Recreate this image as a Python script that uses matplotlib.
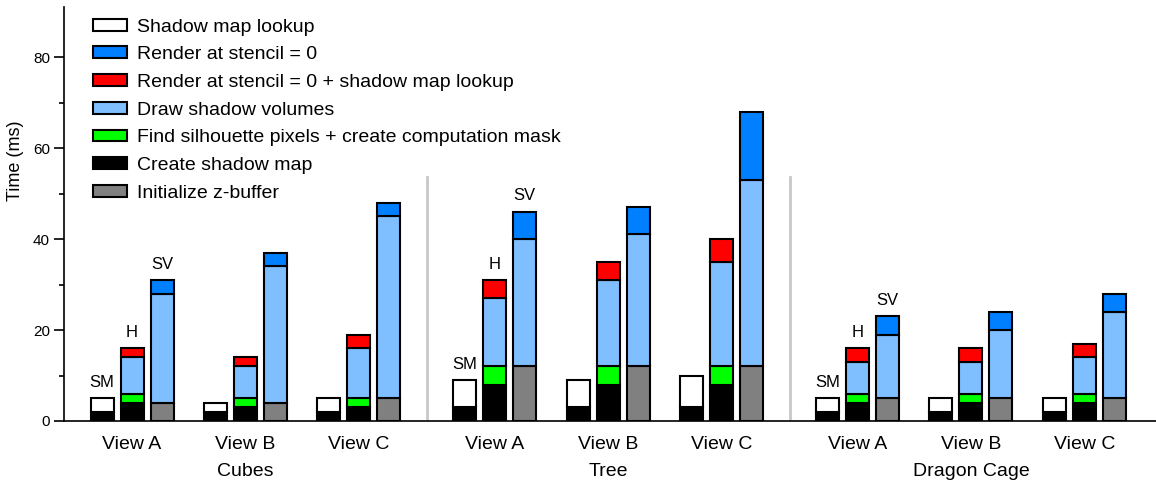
import matplotlib
matplotlib.use("Agg")
import matplotlib.pyplot as plt
from matplotlib.patches import Patch
import numpy as np

plt.rcParams["font.family"] = ["Liberation Sans", "DejaVu Sans"]

# Data (ms), one value per view: Cubes A-C, Tree A-C, Dragon Cage A-C
groups = ["Cubes", "Tree", "Dragon Cage"]
views = ["View A", "View B", "View C"]

# SM bar
sm_create_map = [2, 2, 2, 3, 3, 3, 2, 2, 2]
sm_lookup = [3, 2, 3, 6, 6, 7, 3, 3, 3]
# H bar
h_create_map = [4, 3, 3, 8, 8, 8, 4, 4, 4]
h_silhouette = [2, 2, 2, 4, 4, 4, 2, 2, 2]
h_draw_sv = [8, 7, 11, 15, 19, 23, 7, 7, 8]
h_render_lookup = [2, 2, 3, 4, 4, 5, 3, 3, 3]
# SV bar
sv_init_z = [4, 4, 5, 12, 12, 12, 5, 5, 5]
sv_draw_sv = [24, 30, 40, 28, 29, 41, 14, 15, 19]
sv_render = [3, 3, 3, 6, 6, 15, 4, 4, 4]

c_white = "#ffffff"
c_blue = "#0080ff"
c_red = "#ff0000"
c_lblue = "#80bfff"
c_green = "#00ff00"
c_black = "#000000"
c_gray = "#808080"

legend_items = [
    ("Shadow map lookup", c_white),
    ("Render at stencil = 0", c_blue),
    ("Render at stencil = 0 + shadow map lookup", c_red),
    ("Draw shadow volumes", c_lblue),
    ("Find silhouette pixels + create computation mask", c_green),
    ("Create shadow map", c_black),
    ("Initialize z-buffer", c_gray),
]

# layout
view_step = 3.78
group_gap = 0.75
bar_w = 0.77
group_step = 3 * view_step + group_gap

idx = np.arange(9)
g_idx = idx // 3
v_idx = idx % 3
base_x = g_idx * group_step + v_idx * view_step
x_sm = base_x
x_h = base_x + 1
x_sv = base_x + 2

fig = plt.figure(figsize=(11.56, 4.87), dpi=100)
ax = fig.add_axes([64 / 1156, 66 / 487, 1 - 64 / 1156, (421 - 7) / 487])

ekw = dict(width=bar_w, edgecolor="black", linewidth=1.5, zorder=3)

def stack(x, segments):
    bottom = np.zeros(len(x))
    for vals, col in segments:
        vals = np.array(vals, dtype=float)
        ax.bar(x, vals, bottom=bottom, color=col, **ekw)
        bottom += vals
    return bottom

top_sm = stack(x_sm, [(sm_create_map, c_black), (sm_lookup, c_white)])
top_h = stack(x_h, [(h_create_map, c_black), (h_silhouette, c_green),
                    (h_draw_sv, c_lblue), (h_render_lookup, c_red)])
top_sv = stack(x_sv, [(sv_init_z, c_gray), (sv_draw_sv, c_lblue),
                      (sv_render, c_blue)])

# SM / H / SV labels above view A of each group
for i in idx[v_idx == 0]:
    for xs, tops, lab in [(x_sm, top_sm, "SM"), (x_h, top_h, "H"), (x_sv, top_sv, "SV")]:
        ax.annotate(lab, (xs[i], tops[i]), xytext=(0, 6), textcoords="offset points",
                    ha="center", va="bottom", fontsize=12)

# separators between groups
for g in range(1, len(groups)):
    xsep = (x_sv[3 * g - 1] + x_sm[3 * g]) / 2
    ax.plot([xsep, xsep], [0, 53.6], color="#c8c8c8", lw=2, zorder=1)

ax.set_xlim(x_sm[0] - 1.27, x_sm[0] + 35.13)
ax.set_ylim(0, 91)
ax.spines["top"].set_visible(False)
ax.spines["right"].set_visible(False)
ax.spines["left"].set_linewidth(1.2)
ax.spines["bottom"].set_linewidth(1.2)
ax.set_xticks([])
ax.set_yticks([0, 20, 40, 60, 80])
ax.set_yticks([10, 30, 50, 70], minor=True)
ax.tick_params(axis="y", which="major", direction="out", length=7, width=1.2,
               labelsize=11, pad=3)
ax.tick_params(axis="y", which="minor", direction="out", length=3.5, width=1.2)
ax.set_ylabel("Time (ms)", fontsize=13)
ax.yaxis.set_label_coords(-0.0366, 0.628)

# view and group labels
for i in idx:
    ax.annotate(views[v_idx[i]], (x_h[i], 0), xytext=(0, -11), textcoords="offset points",
                ha="center", va="top", fontsize=14)
for g, name in enumerate(groups):
    ax.annotate(name, (x_h[3 * g + 1], 0), xytext=(0, -30), textcoords="offset points",
                ha="center", va="top", fontsize=14)

handles = [Patch(facecolor=c, edgecolor="black", linewidth=1.5, label=l) for l, c in legend_items]
ax.legend(handles=handles, loc="upper left", bbox_to_anchor=(0.0145, 1.005), frameon=False,
          fontsize=14, handlelength=1.75, handleheight=0.55, labelspacing=0.55,
          handletextpad=0.5, borderaxespad=0.3)

fig.savefig("out.png", dpi=100)
